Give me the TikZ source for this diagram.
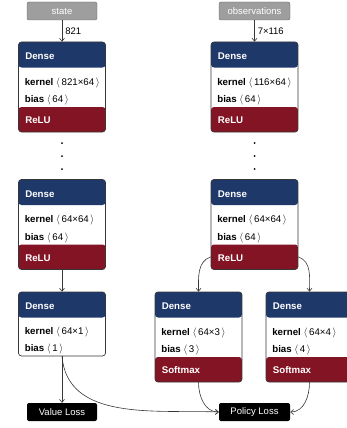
\documentclass[tikz,border=0pt]{standalone}
\usepackage{fontspec}
\setmainfont{Liberation Sans}
\usetikzlibrary{positioning, arrows.meta}

\definecolor{densecol}{RGB}{31,56,106}
\definecolor{actcol}{RGB}{130,20,36}
\definecolor{iocol}{RGB}{158,158,158}
\definecolor{linecol}{RGB}{55,55,55}

\newcommand{\dimtxt}[1]{ $\langle$\,#1\,$\rangle$}

\begin{document}
\begin{tikzpicture}[x=1pt, y=1pt,
    io/.style={rectangle, rounded corners=2pt, draw=black!60, fill=iocol, text=white,
               minimum width=70pt, minimum height=18pt, inner sep=0pt, font=\fontsize{9.5}{11}\selectfont},
    loss/.style={rectangle, rounded corners=2pt, fill=black, text=white,
                 minimum width=70pt, minimum height=18pt, inner sep=0pt, font=\fontsize{9.5}{11}\selectfont},
    layer/.style={rectangle, rounded corners=3pt, draw=linecol, line width=0.7pt, fill=white,
                  minimum width=87pt, minimum height=#1, inner sep=0pt,
                  path picture={\fill[densecol] (path picture bounding box.north west) rectangle ([yshift=-25.5pt]path picture bounding box.north east);}},
    actlayer/.style={rectangle, rounded corners=3pt, draw=linecol, line width=0.7pt, fill=white,
                  minimum width=87pt, minimum height=90pt, inner sep=0pt,
                  path picture={\fill[densecol] (path picture bounding box.north west) rectangle ([yshift=-25.5pt]path picture bounding box.north east);
                                \fill[actcol] (path picture bounding box.south west) rectangle ([yshift=25pt]path picture bounding box.south east);}},
    head/.style={anchor=west, inner sep=0pt, text=white, font=\bfseries\fontsize{9.7}{11}\selectfont},
    param/.style={anchor=west, inner sep=0pt, font=\fontsize{9.7}{11}\selectfont},
    arrow/.style={-{Straight Barb[length=3pt, width=5pt]}, draw=linecol, line width=0.6pt},
    edgelabel/.style={right, inner sep=3pt, font=\fontsize{9.5}{11}\selectfont}
]
    \useasboundingbox (0,0) rectangle (347,-428);

    % Inputs
    \node[io] (state) at (62, -11) {state};
    \node[io, minimum width=71pt] (obs) at (254.5, -11) {observations};

    % First dense layers
    \node[actlayer] (v1) at (62, -87) {};
    \node[head] (v1h) at ([xshift=7pt, yshift=-15pt]v1.north west) {Dense};
    \node[param] (v1k) at ([xshift=6.5pt, yshift=-41pt]v1.north west) {\textbf{kernel}\dimtxt{821×64}};
    \node[param] (v1b) at ([xshift=6.5pt, yshift=-58.5pt]v1.north west) {\textbf{bias}\dimtxt{64}};
    \node[head] (v1a) at ([xshift=7pt, yshift=12pt]v1.south west) {ReLU};

    \node[actlayer] (p1) at (254.5, -87) {};
    \node[head] (p1h) at ([xshift=7pt, yshift=-15pt]p1.north west) {Dense};
    \node[param] (p1k) at ([xshift=6.5pt, yshift=-41pt]p1.north west) {\textbf{kernel}\dimtxt{116×64}};
    \node[param] (p1b) at ([xshift=6.5pt, yshift=-58.5pt]p1.north west) {\textbf{bias}\dimtxt{64}};
    \node[head] (p1a) at ([xshift=7pt, yshift=12pt]p1.south west) {ReLU};

    \draw[arrow] (state) -- (v1) node[midway, edgelabel] {821};
    \draw[arrow] (obs) -- (p1) node[midway, edgelabel] {7×116};

    % Dots
    \foreach \y in {-143, -156, -169} {
        \fill (62, \y) circle (1pt);
        \fill (254.5, \y) circle (1pt);
    }

    % Second dense layers
    \node[actlayer] (v2) at (62, -224.5) {};
    \node[head] (v2h) at ([xshift=7pt, yshift=-15pt]v2.north west) {Dense};
    \node[param] (v2k) at ([xshift=6.5pt, yshift=-41pt]v2.north west) {\textbf{kernel}\dimtxt{64×64}};
    \node[param] (v2b) at ([xshift=6.5pt, yshift=-58.5pt]v2.north west) {\textbf{bias}\dimtxt{64}};
    \node[head] (v2a) at ([xshift=7pt, yshift=12pt]v2.south west) {ReLU};

    \node[actlayer] (p2) at (254.5, -224.5) {};
    \node[head] (p2h) at ([xshift=7pt, yshift=-15pt]p2.north west) {Dense};
    \node[param] (p2k) at ([xshift=6.5pt, yshift=-41pt]p2.north west) {\textbf{kernel}\dimtxt{64×64}};
    \node[param] (p2b) at ([xshift=6.5pt, yshift=-58.5pt]p2.north west) {\textbf{bias}\dimtxt{64}};
    \node[head] (p2a) at ([xshift=7pt, yshift=12pt]p2.south west) {ReLU};

    % Heads
    \node[layer=64pt] (v3) at (62, -324) {};
    \node[head] (v3h) at ([xshift=7pt, yshift=-14.5pt]v3.north west) {Dense};
    \node[param] (v3k) at ([xshift=6.5pt, yshift=-40pt]v3.north west) {\textbf{kernel}\dimtxt{64×1}};
    \node[param] (v3b) at ([xshift=6.5pt, yshift=-57pt]v3.north west) {\textbf{bias}\dimtxt{1}};

    \node[actlayer] (p3) at (198.5, -337) {};
    \node[head] (p3h) at ([xshift=7pt, yshift=-14.5pt]p3.north west) {Dense};
    \node[param] (p3k) at ([xshift=6.5pt, yshift=-41pt]p3.north west) {\textbf{kernel}\dimtxt{64×3}};
    \node[param] (p3b) at ([xshift=6.5pt, yshift=-58.5pt]p3.north west) {\textbf{bias}\dimtxt{3}};
    \node[head] (p3a) at ([xshift=7pt, yshift=12pt]p3.south west) {Softmax};

    \node[actlayer] (q3) at (309.5, -337) {};
    \node[head] (q3h) at ([xshift=7pt, yshift=-14.5pt]q3.north west) {Dense};
    \node[param] (q3k) at ([xshift=6.5pt, yshift=-41pt]q3.north west) {\textbf{kernel}\dimtxt{64×4}};
    \node[param] (q3b) at ([xshift=6.5pt, yshift=-58.5pt]q3.north west) {\textbf{bias}\dimtxt{4}};
    \node[head] (q3a) at ([xshift=7pt, yshift=12pt]q3.south west) {Softmax};

    \draw[arrow] (v2) -- (v3);
    \draw[arrow] ([yshift=13pt]p2.south west) to[out=200, in=90] (p3.north);
    \draw[arrow] ([yshift=13pt]p2.south east) to[out=-20, in=90] (q3.north);

    % Losses
    \node[loss] (vloss) at (62, -412) {Value Loss};
    \node[loss, minimum width=71pt] (ploss) at (254.5, -412) {Policy Loss};

    \draw[arrow] (v3) -- (vloss);
    \draw[arrow] (v3.south) to[out=-85, in=178] (ploss.west);
    \draw[arrow] (p3.south) to[out=-90, in=180] (ploss.west);
    \draw[arrow] (q3.south) to[out=-90, in=0] (ploss.east);

\end{tikzpicture}
\end{document}
